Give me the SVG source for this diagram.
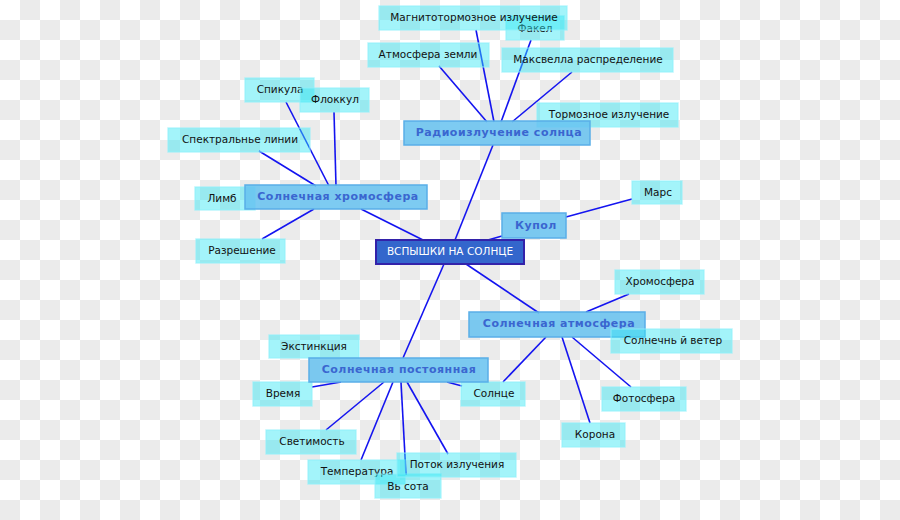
<svg xmlns="http://www.w3.org/2000/svg" width="900" height="520" viewBox="0 0 900 520">
<defs>
<pattern id="chk" width="40" height="40" patternUnits="userSpaceOnUse">
<rect width="40" height="40" fill="#ffffff"/>
<rect x="20" y="0" width="20" height="20" fill="#ebebeb"/>
<rect x="0" y="20" width="20" height="20" fill="#ebebeb"/>
</pattern>
<style>
.leaf rect{fill:#33e6f5;fill-opacity:0.45;stroke:#8ff0fa;stroke-opacity:0.6;stroke-width:1.5}
.leaf text{font-family:"DejaVu Sans",Verdana,sans-serif;font-size:10.5px;fill:#111;text-anchor:middle}
.mid rect{fill:#66c2f0;fill-opacity:0.85;stroke:#5aaee8;stroke-width:1.5}
.mid text{font-family:"DejaVu Sans",Verdana,sans-serif;font-size:11px;font-weight:bold;fill:#3a66d0;text-anchor:middle;letter-spacing:0.5px}
.root rect{fill:#3366cc;stroke:#3322aa;stroke-width:2}
.root text{font-family:"DejaVu Sans",Verdana,sans-serif;font-size:10.5px;fill:#ffffff;text-anchor:middle}
#connectors line{stroke:#1414f0;stroke-width:1.6}
</style>
</defs>
<rect width="900" height="520" fill="url(#chk)"/>
<g id="connectors">
<line x1="455" y1="240" x2="493" y2="145"/>
<line x1="423" y1="240" x2="361" y2="209"/>
<line x1="488" y1="240" x2="502" y2="236"/>
<line x1="566" y1="217" x2="632" y2="199"/>
<line x1="466" y1="264" x2="539" y2="313"/>
<line x1="444" y1="264" x2="403" y2="358"/>
<line x1="494" y1="122" x2="476" y2="30"/>
<line x1="501" y1="122" x2="531" y2="40"/>
<line x1="487" y1="122" x2="439" y2="66"/>
<line x1="512" y1="122" x2="572" y2="72"/>
<line x1="329" y1="186" x2="286" y2="102"/>
<line x1="336" y1="186" x2="334" y2="112"/>
<line x1="316" y1="186" x2="259" y2="151"/>
<line x1="314" y1="209" x2="262" y2="239"/>
<line x1="586" y1="312" x2="629" y2="294"/>
<line x1="546" y1="337" x2="503" y2="382"/>
<line x1="562" y1="337" x2="590" y2="423"/>
<line x1="572" y1="337" x2="631" y2="387"/>
<line x1="341" y1="382" x2="312" y2="387"/>
<line x1="447" y1="382" x2="462" y2="386"/>
<line x1="384" y1="382" x2="326" y2="430"/>
<line x1="393" y1="382" x2="361" y2="460"/>
<line x1="401" y1="382" x2="406" y2="475"/>
<line x1="407" y1="382" x2="448" y2="454"/>
</g>
<g id="n-fakel" class="leaf"><rect x="506" y="16" width="58" height="24"/><text x="535" y="32">Факел</text></g>
<g id="n-magnito" class="leaf"><rect x="379" y="6" width="188" height="24"/><text x="474" y="21">Магнитотормозное излучение</text></g>
<g id="n-atmzemli" class="leaf"><rect x="368" y="43" width="121" height="24"/><text x="428" y="58">Атмосфера земли</text></g>
<g id="n-maxwell" class="leaf"><rect x="502" y="48" width="171" height="24"/><text x="588" y="63">Максвелла распределение</text></g>
<g id="n-tormoz" class="leaf"><rect x="537" y="103" width="141" height="24"/><text x="609" y="118">Тормозное излучение</text></g>
<g id="n-spikula" class="leaf"><rect x="245" y="78" width="69" height="24"/><text x="280" y="93">Спикула</text></g>
<g id="n-flokkul" class="leaf"><rect x="300" y="88" width="69" height="24"/><text x="335" y="103">Флоккул</text></g>
<g id="n-spektr" class="leaf"><rect x="168" y="128" width="142" height="24"/><text x="240" y="143">Спектральнье линии</text></g>
<g id="n-limb" class="leaf"><rect x="195" y="187" width="60" height="23"/><text x="222" y="202">Лимб</text></g>
<g id="n-razresh" class="leaf"><rect x="196" y="239" width="89" height="24"/><text x="242" y="254">Разрешение</text></g>
<g id="n-mars" class="leaf"><rect x="632" y="181" width="50" height="23"/><text x="658" y="196">Марс</text></g>
<g id="n-chromo2" class="leaf"><rect x="615" y="270" width="89" height="24"/><text x="660" y="285">Хромосфера</text></g>
<g id="n-solnce" class="leaf"><rect x="461" y="382" width="64" height="24"/><text x="494" y="397">Солнце</text></g>
<g id="n-foto" class="leaf"><rect x="602" y="387" width="84" height="24"/><text x="644" y="402">Фотосфера</text></g>
<g id="n-korona" class="leaf"><rect x="562" y="423" width="63" height="24"/><text x="595" y="438">Корона</text></g>
<g id="n-extinc" class="leaf"><rect x="269" y="335" width="90" height="23"/><text x="314" y="350">Экстинкция</text></g>
<g id="n-vremya" class="leaf"><rect x="253" y="382" width="59" height="24"/><text x="283" y="397">Время</text></g>
<g id="n-svetim" class="leaf"><rect x="266" y="430" width="90" height="24"/><text x="312" y="445">Светимость</text></g>
<g id="n-temp" class="leaf"><rect x="308" y="460" width="97" height="24"/><text x="357" y="475">Температура</text></g>
<g id="n-vysota" class="leaf"><rect x="375" y="474" width="66" height="24"/><text x="408" y="490">Вь сота</text></g>
<g id="n-potok" class="leaf"><rect x="397" y="453" width="119" height="24"/><text x="457" y="468">Поток излучения</text></g>
<g id="n-radio" class="mid"><rect x="404" y="121" width="186" height="24"/><text x="499" y="136">Радиоизлучение солнца</text></g>
<g id="n-chromo" class="mid"><rect x="245" y="185" width="182" height="24"/><text x="338" y="200">Солнечная хромосфера</text></g>
<g id="n-kupol" class="mid"><rect x="502" y="213" width="64" height="25"/><text x="536" y="229">Купол</text></g>
<g id="n-atmo" class="mid"><rect x="469" y="312" width="176" height="25"/><text x="559" y="327">Солнечная атмосфера</text></g>
<g id="n-wind" class="leaf"><rect x="611" y="329" width="121" height="24"/><text x="673" y="344">Солнечнь й ветер</text></g>
<g id="n-const" class="mid"><rect x="309" y="358" width="179" height="24"/><text x="399" y="373">Солнечная постоянная</text></g>
<g id="n-root" class="root"><rect x="376" y="240" width="148" height="24"/><text x="450" y="255">ВСПЫШКИ НА СОЛНЦЕ</text></g>
</svg>
